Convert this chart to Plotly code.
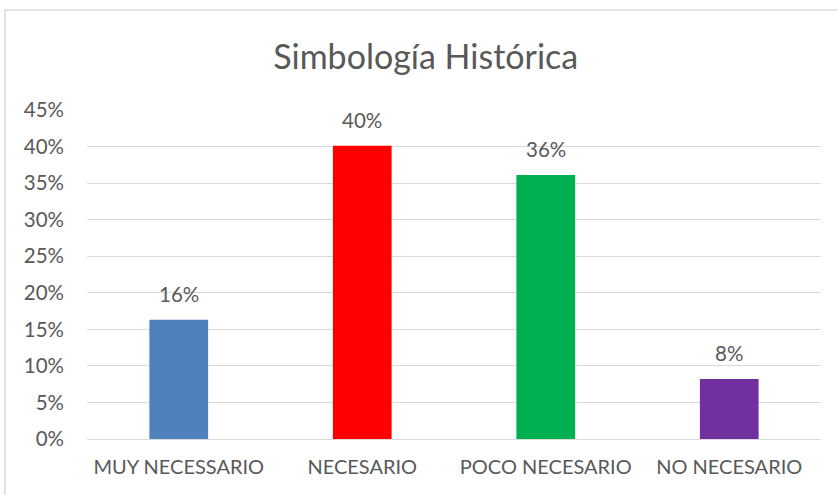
import plotly.graph_objects as go

categories = ["MUY NECESSARIO", "NECESARIO", "POCO NECESARIO", "NO NECESARIO"]
values = [0.163, 0.401, 0.361, 0.082]
labels = ["16%", "40%", "36%", "8%"]
colors = ["#4F81BD", "#FF0000", "#00B050", "#7030A0"]
tick_vals = [0, 0.05, 0.10, 0.15, 0.20, 0.25, 0.30, 0.35, 0.40, 0.45]

font_family = "Lato, 'Open Sans', sans-serif"
text_color = "#595959"

fig = go.Figure()
fig.add_trace(go.Bar(x=categories, y=values, marker=dict(color=colors, line=dict(width=0)),
                     hoverinfo="skip"))

for c, v, t in zip(categories, values, labels):
    fig.add_annotation(x=c, y=v, text=t, showarrow=False, yanchor="bottom", yshift=12,
                       font=dict(size=20.5, color=text_color, family=font_family))

W, H = 838, 495
ml, mr, mt, mb = 87, 17, 110, 56
pw, ph = W - ml - mr, H - mt - mb
fig.add_shape(type="rect", xref="paper", yref="paper",
              x0=(5 - ml) / pw, x1=(850 - ml) / pw,
              y0=-(510 - (H - mb)) / ph, y1=1 + (mt - 10) / ph,
              line=dict(color="#D9D9D9", width=1.5), fillcolor="rgba(0,0,0,0)", layer="below")

fig.update_layout(
    width=W, height=H,
    margin=dict(l=ml, r=mr, t=mt, b=mb),
    paper_bgcolor="white", plot_bgcolor="white",
    bargap=0.68,
    showlegend=False,
    title=dict(text="Simbología Histórica", x=0.508, xref="container", xanchor="center",
               y=1 - 57 / H, yanchor="middle",
               font=dict(size=34, color=text_color, family=font_family)),
    font=dict(family=font_family, color=text_color, size=20),
    xaxis=dict(showgrid=False, showline=False, zeroline=False, ticks="",
               tickfont=dict(size=20, color=text_color), ticklabelstandoff=14),
    yaxis=dict(range=[0, 0.45], tickvals=tick_vals, tickformat=".0%", showgrid=True,
               gridcolor="#D9D9D9", gridwidth=1.3, zeroline=True, zerolinecolor="#D9D9D9",
               zerolinewidth=1.3, showline=False, ticks="", ticklabelstandoff=22,
               tickfont=dict(size=20.5, color=text_color)),
)

fig.write_html("out.html", config={"displayModeBar": False},
               post_script="document.body.style.margin='0';window.dispatchEvent(new Event('resize'));")
